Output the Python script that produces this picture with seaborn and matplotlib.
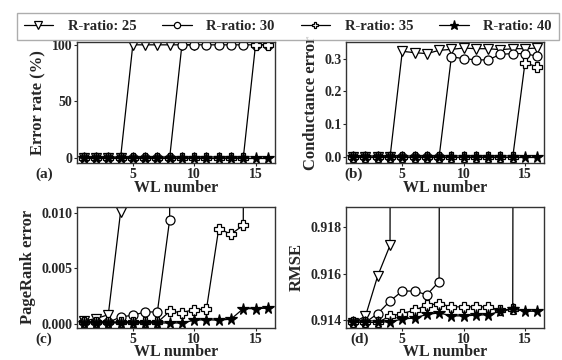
import matplotlib
matplotlib.use("Agg")
import matplotlib.pyplot as plt
import seaborn as sns
import pandas as pd
from matplotlib.lines import Line2D

# ---- data ----
wl = list(range(1, 17))

# (a) error rate (%)
err_25 = [0, 0, 0, 0, 100, 100, 100, 100, 100, 100]
err_30 = [0] * 8 + [100] * 8
err_35 = [0] * 14 + [100] * 2
err_40 = [0] * 16

# (b) conductance error
cond_25 = [0, 0, 0, 0, 0.322, 0.318, 0.315, 0.325, 0.328, 0.332, 0.330, 0.330, 0.327, 0.330, 0.330, 0.332]
cond_30 = [0] * 8 + [0.305, 0.300, 0.296, 0.296, 0.313, 0.315, 0.315, 0.307]
cond_35 = [0] * 14 + [0.287, 0.275]
cond_40 = [0] * 16

# (c) pagerank error (points after the jump are far above the axis)
pr_25 = [0.00024, 0.00045, 0.0008, 0.0101, 0.5, 0.5, 0.5, 0.5, 0.5, 0.5, 0.5, 0.5, 0.5, 0.5, 0.5, 0.5]
pr_30 = [0.0001, 0.0001, 0.0001, 0.0006, 0.00075, 0.00105, 0.00105, 0.0094, 0.5, 0.5, 0.5, 0.5, 0.5, 0.5, 0.5, 0.5]
pr_35 = [0.0001, 0.0001, 0.0001, 0.0001, 0.0001, 0.0001, 0.0001, 0.0011, 0.001, 0.00126, 0.0013, 0.0086, 0.0081, 0.0089, 0.5, 0.5]
pr_40 = [0.00005] * 9 + [0.0003, 0.00035, 0.0003, 0.0004, 0.00135, 0.00135, 0.0014]

# (d) RMSE
rmse_25 = [0.91389, 0.91417, 0.91591, 0.91722, 1.2, 1.2, 1.2, 1.2, 1.2, 1.2, 1.2, 1.2, 1.2, 1.2, 1.2, 1.2]
rmse_30 = [0.9139, 0.9139, 0.91428, 0.91482, 0.91525, 0.91525, 0.91509, 0.91566, 1.2, 1.2, 1.2, 1.2, 1.2, 1.2, 1.2, 1.2]
rmse_35 = [0.9139, 0.9139, 0.9139, 0.91417, 0.91428, 0.91443, 0.91464, 0.91471, 0.91457, 0.91457, 0.91457,
           0.91457, 0.91443, 0.91447, 1.2, 1.2]
rmse_40 = [0.9139, 0.9139, 0.9139, 0.91393, 0.91404, 0.91409, 0.91424, 0.91431, 0.91418, 0.91418, 0.91421,
           0.91423, 0.91438, 0.91447, 0.91438, 0.91438]

ratios = ["R-ratio: 25", "R-ratio: 30", "R-ratio: 35", "R-ratio: 40"]

sns.set_theme(style="ticks")
plt.rcParams["font.family"] = ["Liberation Serif", "DejaVu Serif"]
plt.rcParams["font.weight"] = "bold"
plt.rcParams["axes.labelweight"] = "bold"

styles = [
    dict(marker="v", markersize=7.5, markerfacecolor="white", markeredgecolor="black"),
    dict(marker="o", markersize=6.5, markerfacecolor="white", markeredgecolor="black"),
    dict(marker="P", markersize=6.5, markerfacecolor="white", markeredgecolor="black"),
    dict(marker="*", markersize=8.5, markerfacecolor="black", markeredgecolor="black"),
]


def draw_panel(ax, series, ylabel, ylim, yticks, yticklabels, tag, tag_x):
    for vals, st in zip(series, styles):
        df = pd.DataFrame({"wl": wl[:len(vals)], "v": vals})
        sns.lineplot(data=df, x="wl", y="v", ax=ax, color="black", linewidth=0.9,
                     markeredgewidth=0.9, **st)
    ax.set_xlim(0.45, 16.55)
    ax.set_ylim(*ylim)
    ax.set_xticks([5, 10, 15])
    ax.set_yticks(yticks)
    ax.set_yticklabels(yticklabels)
    ax.set_xlabel("WL number", fontsize=11.5, labelpad=-1)
    ax.set_ylabel(ylabel, fontsize=12)
    ax.tick_params(labelsize=10, length=2.5, width=0.8, pad=1)
    for s in ax.spines.values():
        s.set_linewidth(1.0)
        s.set_color("0.2")
    ax.text(tag_x, -0.09, tag, transform=ax.transAxes, fontsize=11, fontweight="bold",
            ha="left", va="center")


fig, axes = plt.subplots(2, 2, figsize=(5.62, 3.6))
fig.subplots_adjust(left=0.137, right=0.968, bottom=0.089, top=0.883, wspace=0.364, hspace=0.355)

draw_panel(axes[0, 0], [err_25, err_30, err_35, err_40], "Error rate (%)",
           (-4.8, 102.4), [0, 50, 100], ["0", "50", "100"], "(a)", -0.21)
draw_panel(axes[0, 1], [cond_25, cond_30, cond_35, cond_40], "Conductance error",
           (-0.019, 0.35), [0, 0.1, 0.2, 0.3], ["0.0", "0.1", "0.2", "0.3"], "(b)", -0.01)
draw_panel(axes[1, 0], [pr_25, pr_30, pr_35, pr_40], "PageRank error",
           (-0.0004, 0.0106), [0, 0.005, 0.010], ["0.000", "0.005", "0.010"], "(c)", -0.21)
draw_panel(axes[1, 1], [rmse_25, rmse_30, rmse_35, rmse_40], "RMSE",
           (0.91366, 0.91889), [0.914, 0.916, 0.918], ["0.914", "0.916", "0.918"], "(d)", 0.02)

handles = [Line2D([], [], color="black", linewidth=0.9, markeredgewidth=0.9,
                  **{**st, "markersize": st["markersize"] - 2}) for st in styles]
leg = fig.legend(handles, ratios, loc="upper center", bbox_to_anchor=(0.512, 0.985), ncol=4,
                 frameon=True, fancybox=False, edgecolor="0.6", fontsize=10.5,
                 handlelength=2.0, handletextpad=1.0, columnspacing=1.8, borderpad=0.5)
leg.get_frame().set_linewidth(1.0)

fig.savefig("out.png", dpi=100)
